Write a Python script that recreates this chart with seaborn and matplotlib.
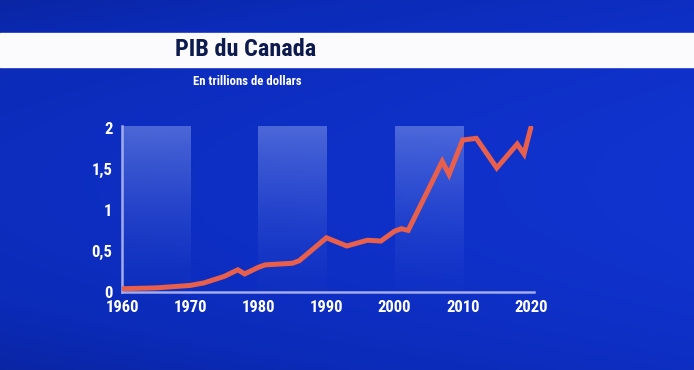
import numpy as np
import pandas as pd
import matplotlib.pyplot as plt
import seaborn as sns
from matplotlib.colors import LinearSegmentedColormap
from matplotlib.patches import Rectangle

# Données (PIB en trillions de dollars)
annees = [1960, 1965, 1970, 1972, 1975, 1977, 1978, 1980, 1981, 1985, 1986,
          1990, 1993, 1996, 1998, 2000, 2001, 2002, 2007, 2008, 2010, 2012,
          2015, 2018, 2019, 2020]
pib = [0.04, 0.05, 0.08, 0.11, 0.19, 0.27, 0.22, 0.30, 0.33, 0.35, 0.38,
       0.66, 0.56, 0.63, 0.62, 0.74, 0.77, 0.75, 1.59, 1.43, 1.85, 1.87,
       1.51, 1.80, 1.68, 2.00]
decennies = [(1960, 1970), (1980, 1990), (2000, 2010)]
graduations_y = [0, 0.5, 1, 1.5, 2]
etiquettes_y = ['0', '0,5', '1', '1,5', '2']
graduations_x = [1960, 1970, 1980, 1990, 2000, 2010, 2020]

df = pd.DataFrame({'annee': annees, 'pib': pib})

sns.set_style('white')
police = ['Roboto Condensed', 'Liberation Sans Narrow', 'Liberation Sans', 'DejaVu Sans']

fig = plt.figure(figsize=(6.94, 3.70), dpi=100)

# Fond bleu en dégradé
fond = fig.add_axes([0, 0, 1, 1])
fond.set_axis_off()
yy, xx = np.mgrid[0:1:200j, 0:1:300j]
intensite = np.clip(0.6 + 0.3 * xx - 1.0 * (yy - 0.5) ** 2, 0, 1)
cmap_fond = LinearSegmentedColormap.from_list('fond', ['#081a78', '#0b2bb8', '#1236d6'])
fond.imshow(intensite, cmap=cmap_fond, aspect='auto', extent=[0, 1, 0, 1],
            origin='lower', vmin=0, vmax=1)
fond.set_xlim(0, 1)
fond.set_ylim(0, 1)

# Bandeau blanc du titre
fond.add_patch(Rectangle((0, 0.819), 1, 0.092, color='#fbfbfd', zorder=3))
fond.text(0.354, 0.866, 'PIB du Canada', ha='center', va='center',
          fontsize=17.5, fontweight='bold', color='#0c1a4e', family=police, zorder=4)
fond.text(0.356, 0.781, 'En trillions de dollars', ha='center', va='center',
          fontsize=9.2, fontweight='bold', color='white', family=police, zorder=4)

# Graphique principal
ax = fig.add_axes([0.1758, 0.2108, 0.594, 0.4486])
ax.patch.set_alpha(0)

degrade = np.linspace(1, 0, 100).reshape(-1, 1) ** 1.5
cmap_bande = LinearSegmentedColormap.from_list(
    'bande', [(0.6, 0.68, 0.95, 0.02), (0.6, 0.68, 0.95, 0.45)])
for debut, fin in decennies:
    ax.imshow(degrade, cmap=cmap_bande, aspect='auto',
              extent=[debut, fin, 0, 2.02], origin='upper', zorder=1)

sns.lineplot(data=df, x='annee', y='pib', ax=ax, color='#e8604c',
             linewidth=3.6, zorder=3, solid_joinstyle='miter')

ax.set_xlim(1960, 2020.5)
ax.set_ylim(0, 2.02)
ax.set_xticks(graduations_x)
ax.set_yticks(graduations_y)
ax.set_yticklabels(etiquettes_y)
ax.set_xlabel('')
ax.set_ylabel('')

for s in ['top', 'right']:
    ax.spines[s].set_visible(False)
for s in ['left', 'bottom']:
    ax.spines[s].set_color('#a3abe8')
    ax.spines[s].set_linewidth(1.8)

ax.tick_params(axis='x', length=0, pad=6, colors='white', labelsize=12)
ax.tick_params(axis='y', direction='in', length=5, width=1.5, color='#a3abe8',
               pad=7, labelcolor='white', labelsize=12)
for lab in ax.get_xticklabels() + ax.get_yticklabels():
    lab.set_fontweight('bold')
    lab.set_family(police)

fig.savefig('out.png', dpi=100)
